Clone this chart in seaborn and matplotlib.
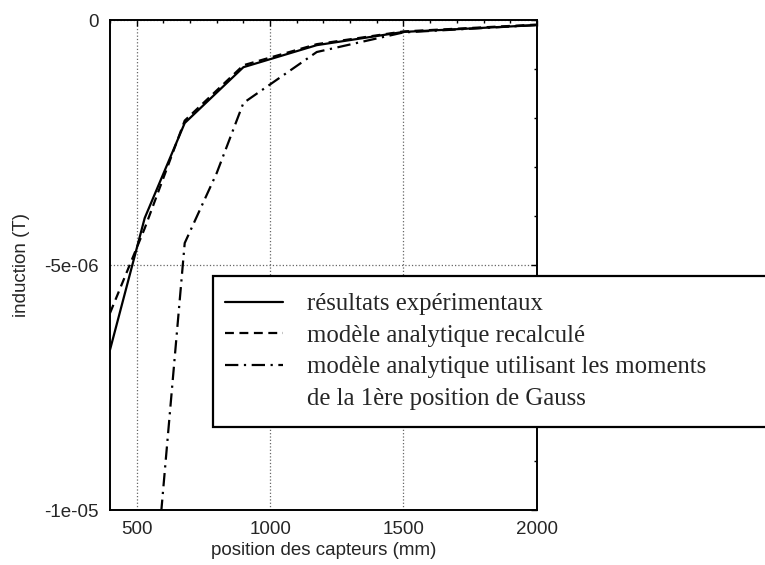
import numpy as np
import pandas as pd
import matplotlib
matplotlib.use("Agg")
import matplotlib.pyplot as plt
from matplotlib.lines import Line2D
from matplotlib.patches import Rectangle
from matplotlib.ticker import MultipleLocator
import seaborn as sns

# ---- données (induction en 1e-6 T) ----
pos_exp = [400, 530, 680, 900, 1175, 1500, 2000]
ind_exp = [-6.73, -4.04, -2.10, -0.96, -0.51, -0.24, -0.10]

pos_recalc = [400, 530, 680, 900, 1175, 1500, 2000]
ind_recalc = [-5.98, -4.25, -2.05, -0.92, -0.49, -0.23, -0.09]

pos_gauss = [530, 680, 800, 900, 1175, 1500, 2000]
ind_gauss = [-13.9, -4.55, -3.12, -1.69, -0.65, -0.25, -0.10]

noms = ["résultats expérimentaux",
        "modèle analytique recalculé",
        "modèle analytique utilisant les moments"]
ligne_suite = "de la 1ère position de Gauss"

xticks = [500, 1000, 1500, 2000]
yticks = [-1e-5, -5e-6, 0]
ytick_labels = ["-1e-05", "-5e-06", "0"]

df = pd.concat([
    pd.DataFrame({"position": pos_exp, "induction": np.array(ind_exp) * 1e-6, "serie": noms[0]}),
    pd.DataFrame({"position": pos_recalc, "induction": np.array(ind_recalc) * 1e-6, "serie": noms[1]}),
    pd.DataFrame({"position": pos_gauss, "induction": np.array(ind_gauss) * 1e-6, "serie": noms[2]}),
], ignore_index=True)

sns.set_style("white")
plt.rcParams["font.family"] = ["Liberation Sans", "DejaVu Sans"]

fig = plt.figure(figsize=(7.65, 5.65), dpi=100)
ax = fig.add_axes([0.1438, 0.0973, 0.558, 0.867])

styles = {noms[0]: "", noms[1]: (4, 2.5), noms[2]: (6, 2.5, 1, 2.5)}
sns.lineplot(data=df, x="position", y="induction", style="serie", style_order=noms,
             dashes=styles, color="black", linewidth=1.6, sort=False,
             estimator=None, legend=False, ax=ax)

ax.set_xlim(400, 2000)
ax.set_ylim(-1e-5, 0)
ax.set_xticks(xticks)
ax.set_xticklabels([str(v) for v in xticks])
ax.set_yticks(yticks)
ax.set_yticklabels(ytick_labels)
ax.xaxis.set_minor_locator(MultipleLocator(100))
ax.yaxis.set_minor_locator(MultipleLocator(1e-6))
ax.tick_params(which="both", direction="in", top=True, right=True, color="black")
ax.tick_params(which="major", length=4, width=1, labelsize=13.5, pad=8)
ax.tick_params(which="minor", length=2.5, width=1)
ax.grid(True, which="major", linestyle=":", color="#666666", linewidth=0.9)
for s in ax.spines.values():
    s.set_color("black")
    s.set_linewidth(1.4)

ax.set_xlabel("position des capteurs (mm)", fontsize=13.5, labelpad=3)
ax.set_ylabel("induction (T)", fontsize=13.5, labelpad=10)

# cadre de la légende (déborde à droite comme l'original)
cadre = Rectangle((213 / 765, 1 - 427 / 565), 0.75, 151 / 565, transform=fig.transFigure,
                  facecolor="white", edgecolor="black", linewidth=1.6, zorder=3)
fig.patches.append(cadre)

lignes = ax.get_lines()
handles = list(lignes[:3]) + [Line2D([], [], color="none")]
fig.legend(handles, noms + [ligne_suite], loc="upper left",
           bbox_to_anchor=(225 / 765, 1 - 293 / 565), frameon=False,
           borderpad=0, borderaxespad=0, handlelength=2.35, handletextpad=0.95,
           labelspacing=0.37,
           prop={"family": "Liberation Serif", "size": 17.8})

fig.savefig("out.png", dpi=100)
